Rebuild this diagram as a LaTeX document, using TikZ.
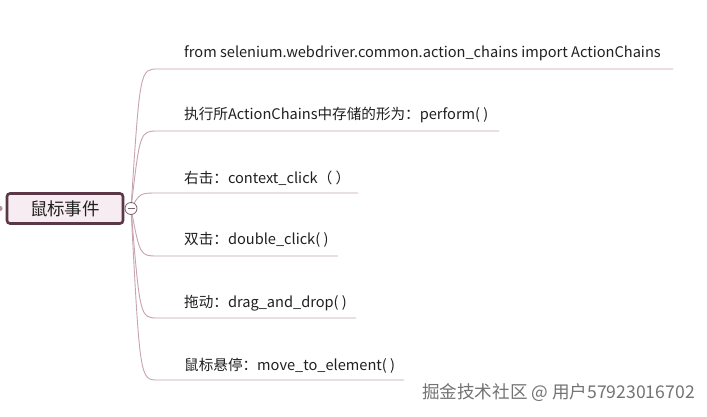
\documentclass[tikz,border=0pt]{standalone}
\usepackage{fontspec}
\setmainfont{Noto Sans CJK SC}
\begin{document}
\begin{tikzpicture}[x=1pt,y=-1pt,
  branch/.style={draw=lineC, line width=0.9pt},
  lbl/.style={anchor=west, inner sep=0pt, font=\fontsize{14.6}{15}\selectfont, text=txtC}]
\definecolor{lineC}{HTML}{C9A3AF}
\definecolor{txtC}{HTML}{202020}
\definecolor{rootB}{HTML}{5A3848}
\definecolor{rootF}{HTML}{F6ECF1}
\useasboundingbox (0,0) rectangle (707,416);
\fill[white] (0,0) rectangle (707,416);
% parent dot at left edge
\fill[lineC!90!black] (0,208.5) circle (2.6pt);
% root
\node[draw=rootB, line width=2.6pt, fill=rootF, rounded corners=3pt,
  minimum width=116pt, minimum height=30pt, inner sep=0pt,
  font=\fontsize{17.5}{18}\selectfont, text=txtC] (root) at (65,208.5) {鼠标事件};
\coordinate (hub) at (131,208.5);
% branches
\foreach \y/\xe/\n in {69/673/b1,131/499/b2,193/358/b3,256/338/b4,318/356/b5,380/404/b6}{
  \coordinate (\n s) at (158,\y);
  \coordinate (\n e) at (\xe,\y);
  \draw[branch] (hub) .. controls (140,\y) and (140,\y) .. (\n s) -- (\n e);
}
% hub circle
\node[circle, draw=rootB!80, line width=0.8pt, fill=white, minimum size=12pt, inner sep=0pt] (hubc) at (hub) {};
\draw[rootB!80, line width=0.9pt] ([xshift=-3.5pt]hubc.center) -- ([xshift=3.5pt]hubc.center);
% labels
\node[lbl] (t1) at (184,53) {from selenium.webdriver.common.action\_chains import ActionChains};
\node[lbl] (t2) at (184,115) {执行所ActionChains中存储的形为：perform( )};
\node[lbl] (t3) at (184,178) {右击：context\_click（ ）};
\node[lbl] (t4) at (184,240) {双击：double\_click( )};
\node[lbl] (t5) at (184,303) {拖动：drag\_and\_drop( )};
\node[lbl] (t6) at (184,366) {鼠标悬停：move\_to\_element( )};
% watermark
\node[anchor=east, inner sep=0pt, font=\fontsize{17.6}{18}\selectfont, text=black!55] (wm) at (695,393) {掘金技术社区 @ 用户57923016702};
\end{tikzpicture}
\end{document}
